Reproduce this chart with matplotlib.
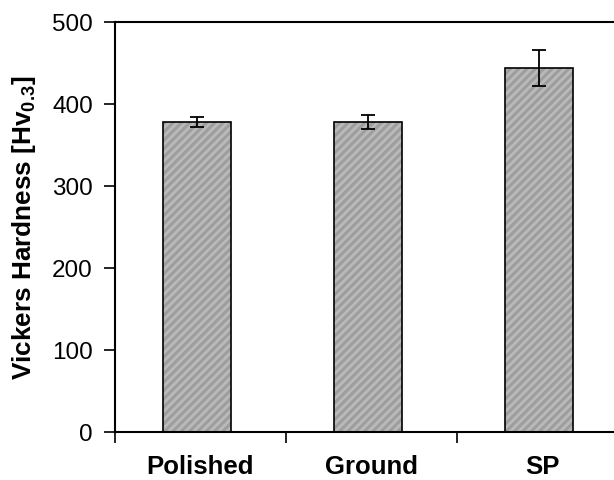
import numpy as np
import matplotlib
matplotlib.use("Agg")
import matplotlib.pyplot as plt

plt.rcParams['font.family'] = ['Liberation Sans', 'DejaVu Sans']
plt.rcParams['mathtext.fontset'] = 'custom'
plt.rcParams['mathtext.rm'] = 'Liberation Sans'
plt.rcParams['mathtext.bf'] = 'Liberation Sans:bold'
plt.rcParams['hatch.linewidth'] = 2.0

surfaces = ['Polished', 'Ground', 'SP']
hardness = [378, 378, 444]
hardness_err = [6, 9, 22]

fig = plt.figure(figsize=(6.14, 4.81), dpi=100)
ax = fig.add_axes([115 / 614, (481 - 433) / 481, 513 / 614, 410 / 481])

x = np.arange(len(surfaces)) - 0.02
ax.bar(x, hardness, width=0.40, color='#9e9e9e', edgecolor='#bababa',
       hatch='////', linewidth=0, zorder=2)
ax.bar(x, hardness, width=0.40, color='none', edgecolor='black',
       linewidth=1.2, zorder=3)
ax.errorbar(x, hardness, yerr=hardness_err, fmt='none', ecolor='black',
            elinewidth=1.3, capsize=5, capthick=1.3, zorder=4)

ax.set_xlim(-0.5, 2.5)
ax.set_ylim(0, 500)
ax.set_yticks(range(0, 501, 100))
ax.set_xticks([-0.5, 0.5, 1.5, 2.5])
ax.set_xticklabels([])
ax.set_xticks(np.arange(len(surfaces)), minor=True)
ax.set_xticklabels(surfaces, minor=True, fontsize=18.5, fontweight='bold')
ax.tick_params(axis='x', which='minor', length=0, pad=16)
ax.tick_params(axis='x', which='major', direction='out', length=8, width=1.2)
ax.tick_params(axis='y', direction='out', length=8, width=1.2, labelsize=17.5, pad=8)

ax.spines['right'].set_visible(False)
for s in ['left', 'bottom', 'top']:
    ax.spines[s].set_linewidth(1.5)

ax.set_ylabel(r'Vickers Hardness [Hv$_{\mathbf{0.3}}$]', fontsize=18.8,
              fontweight='bold', labelpad=10)

fig.savefig('out.png', dpi=100)
